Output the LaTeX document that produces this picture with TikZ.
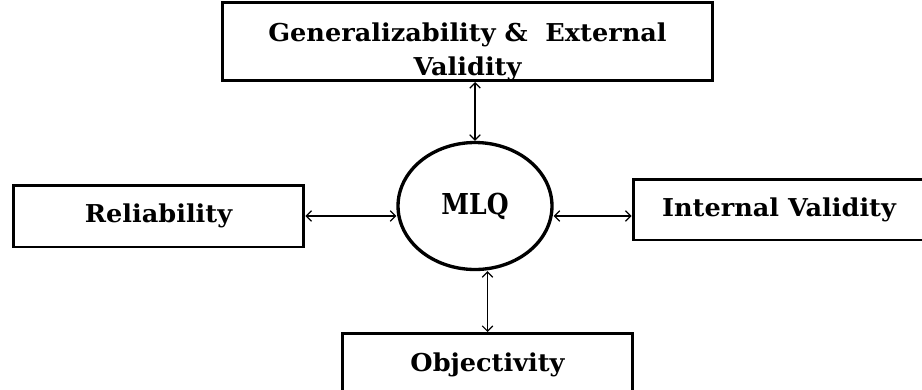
\documentclass[tikz,border=0pt]{standalone}
\usepackage{fontspec}
\setmainfont[FakeStretch=1.04]{DejaVu Serif}
\newfontfamily\mlqfont[FakeStretch=0.87]{DejaVu Serif}
\usepackage{tikz}
\usetikzlibrary{shapes.geometric}
\usetikzlibrary{arrows.meta}
\usetikzlibrary{positioning}

\begin{document}
\begin{tikzpicture}[x=0.02cm,y=-0.02cm,
	box/.style={draw,line width=1.7pt,rectangle,inner sep=0pt,font=\fontsize{14}{19.3}\selectfont\bfseries},
	link/.style={{Straight Barb[length=3pt,width=6pt]}-{Straight Barb[length=3pt,width=6pt]},line width=0.7pt}]
	\useasboundingbox (0,0) rectangle (922,389);
	\node [box,anchor=south,minimum width=9.82cm,text height=1.46cm,align=center] (gen) at (467.5,82) {Generalizability \&\ \ External\\Validity};
	\node [box,minimum width=5.82cm,minimum height=1.24cm] (rel) at (158.5,216) {Reliability};
	\node [box,minimum width=5.84cm,minimum height=1.22cm] (intv) at (779,209.5) {Internal Validity};
	\node [box,anchor=north,minimum width=5.82cm,text height=0.37cm,text depth=1cm,inner ysep=0.39cm] (obj) at (487.5,332) {Objectivity};
	\node [ellipse,draw,line width=1.9pt,inner sep=0pt,minimum width=3.08cm,minimum height=2.54cm,font=\mlqfont\fontsize{16.4}{18}\selectfont\bfseries] (mlq) at (475,206) {MLQ};
	\draw [link] (gen.south -| mlq.north) -- (mlq.north);
	\draw [link] (rel.east) -- (rel.east -| mlq.west);
	\draw [link] (mlq.east |- rel.east) -- (intv.west |- rel.east);
	\draw [link] (obj.north) -- (obj.north |- mlq.south);
\end{tikzpicture}
\end{document}
